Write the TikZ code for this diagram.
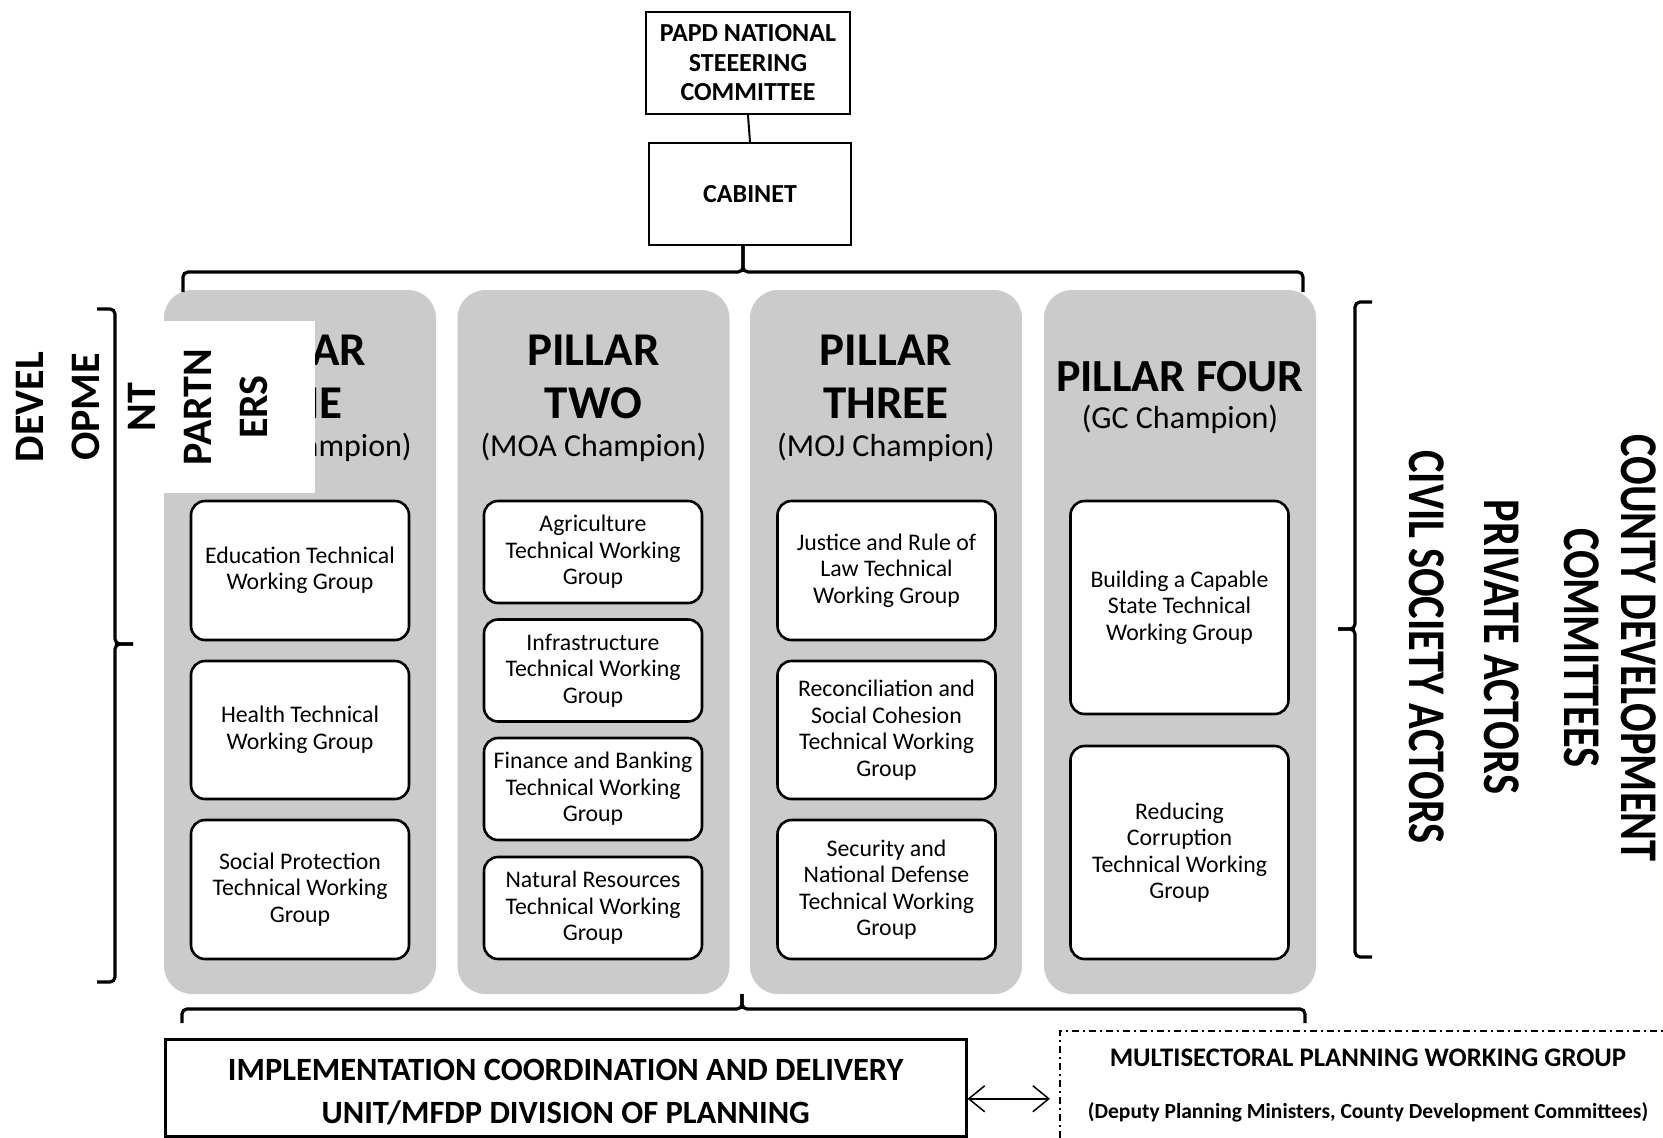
\documentclass[tikz,border=0pt]{standalone}
\usepackage{fontspec}
\setmainfont{Carlito}
\usepackage{graphicx}
\usetikzlibrary{arrows.meta,calc}
\definecolor{pgray}{RGB}{203,203,203}
\newcommand\fsz[2]{\fontsize{#1}{#2}\selectfont}
\begin{document}
\begin{tikzpicture}[x=1pt,y=-1pt,
  pillar/.style={fill=pgray, draw=none, rounded corners=28pt, minimum width=272pt, minimum height=704pt, inner sep=0pt},
  wg/.style={draw=black, line width=2.6pt, fill=white, rounded corners=14pt, minimum width=218pt, align=center, font=\fsz{23.8}{26.5}, inner sep=0pt},
  topbox/.style={draw=black, line width=2.3pt, align=center, font=\bfseries\fsz{26}{29.5}, inner sep=0pt},
  brace/.style={line width=3.2pt, rounded corners=5pt},
  ptitle/.style={align=center, font=\bfseries\fsz{47}{53}, inner sep=0pt},
  pchamp/.style={font=\fsz{32}{38}, inner sep=0pt},
  sidetext/.style={align=center, font=\bfseries\fsz{53}{57}, inner sep=0pt},
  dashdot/.style={line width=1.5pt, dash pattern=on 7pt off 4pt on 2pt off 4pt},
  dblarrow/.style={line width=1.5pt, >={Straight Barb[length=16pt,width=26pt]}, <->}
]
\useasboundingbox (0,0) rectangle (1663,1138);

% top boxes
\node[topbox, minimum width=204pt, minimum height=102pt] (papd) at (748,63) {PAPD NATIONAL\\STEEERING\\COMMITTEE};
\node[topbox, minimum width=202pt, minimum height=102pt] (cab) at (750,194) {CABINET};
\draw[line width=2pt] (papd.south) -- (cab.north);

% pillars
\node[pillar] (p1) at (300,642) {};
\node[pillar] (p2) at (593.5,642) {};
\node[pillar] (p3) at (886,642) {};
\node[pillar] (p4) at (1180,642) {};

\node[ptitle] (t1) at (300,376.5) {PILLAR\\ONE};
\node[pchamp] (c1) at (300,447) {(MOE Champion)};
\node[ptitle] (t2) at (593.5,376.5) {PILLAR\\TWO};
\node[pchamp] (c2) at (593.5,447) {(MOA Champion)};
\node[ptitle] (t3) at (886,376.5) {PILLAR\\THREE};
\node[pchamp] (c3) at (886,447) {(MOJ Champion)};
\node[ptitle, font=\bfseries\fsz{46}{53}] (t4) at (1180,377) {PILLAR FOUR};
\node[pchamp] (c4) at (1180,419) {(GC Champion)};

% working groups pillar 1
\node[wg, minimum height=139pt] (w11) at (300,570.5) {Education Technical\\Working Group};
\node[wg, minimum height=138pt] (w12) at (300,730) {Health Technical\\Working Group};
\node[wg, minimum height=139pt] (w13) at (300,889.5) {Social Protection\\Technical Working\\Group};
% pillar 2
\node[wg, minimum height=102pt] (w21) at (593,552) {Agriculture\\Technical Working\\Group};
\node[wg, minimum height=102pt] (w22) at (593,670.5) {Infrastructure\\Technical Working\\Group};
\node[wg, minimum height=102pt] (w23) at (593,789) {Finance and Banking\\Technical Working\\Group};
\node[wg, minimum height=102pt] (w24) at (593,908) {Natural Resources\\Technical Working\\Group};
% pillar 3
\node[wg, minimum height=139pt] (w31) at (886.5,570.5) {Justice and Rule of\\Law Technical\\Working Group};
\node[wg, minimum height=138pt] (w32) at (886.5,730) {Reconciliation and\\Social Cohesion\\Technical Working\\Group};
\node[wg, minimum height=139pt] (w33) at (886.5,889.5) {Security and\\National Defense\\Technical Working\\Group};
% pillar 4
\node[wg, minimum height=213pt] (w41) at (1179.5,607.5) {Building a Capable\\State Technical\\Working Group};
\node[wg, minimum height=213pt] (w42) at (1179.5,852.5) {Reducing\\Corruption\\Technical Working\\Group};

% white overlay box and development partners text
\node[fill=white, minimum width=151pt, minimum height=172pt, inner sep=0pt, anchor=north west] (wbox) at (164,321) {};
\node[align=center, font=\bfseries\fsz{42}{56}, inner sep=0pt, rotate=90] (dp) at (142,407) {DEVEL\\OPME\\NT\\PARTN\\ERS};

% right side texts
\node[sidetext, rotate=-90] (cdc) at (1610.5,648) {\scalebox{0.8}[1]{COUNTY DEVELOPMENT}\\\scalebox{0.8}[1]{COMMITTEES}};
\node[sidetext, rotate=-90] (pa) at (1502,647) {\scalebox{0.8}[1]{PRIVATE ACTORS}};
\node[sidetext, rotate=-90] (csa) at (1427,647) {\scalebox{0.8}[1]{CIVIL SOCIETY ACTORS}};

% braces
\coordinate (topTip) at ([xshift=-7pt]cab.south);
\draw[brace] (183,292) -- (183,272) -- (topTip |- 0,272) -- (topTip);
\draw[brace] (topTip) -- (topTip |- 0,272) -- (1303,272) -- (1303,292);

\coordinate (botTip) at (742,994);
\draw[brace] (182,1023) -- (182,1009) -- (742,1009) -- (botTip);
\draw[brace] (botTip) -- (742,1009) -- (1305,1009) -- (1305,1023);

\draw[brace] (97,309) -- (115,309) -- (115,644) -- (133,644);
\draw[brace] (133,644) -- (115,644) -- (115,982) -- (97,982);

\draw[brace] (1372,302) -- (1355,302) -- (1355,629) -- (1338,629);
\draw[brace] (1338,629) -- (1355,629) -- (1355,957) -- (1372,957);

% bottom boxes
\node[draw=black, line width=2.5pt, minimum width=801pt, minimum height=97pt, inner sep=0pt, anchor=north west] (icdu) at (164,1038) {};
\node[align=center, font=\bfseries\fsz{32.5}{43}, inner sep=0pt] (icdut) at ([yshift=-4pt]icdu.center) {IMPLEMENTATION COORDINATION AND DELIVERY\\UNIT/MFDP DIVISION OF PLANNING};

\node[minimum width=603pt, minimum height=107pt, inner sep=0pt, anchor=north west] (msg) at (1060,1031) {};
\draw[dashdot] (msg.south west) -- (msg.north west) -- (msg.north east);
\node[font=\bfseries\fsz{26.8}{30}, inner sep=0pt] (msgt) at (1368,1058) {MULTISECTORAL PLANNING WORKING GROUP};
\node[font=\bfseries\fsz{21.5}{24}, inner sep=0pt] (msgs) at (1368,1112) {(Deputy Planning Ministers, County Development Committees)};

\draw[dblarrow, shorten >=10pt] ([yshift=-11pt]icdu.east) -- ([yshift=-11pt]icdu.east -| msg.west);
\end{tikzpicture}
\end{document}
